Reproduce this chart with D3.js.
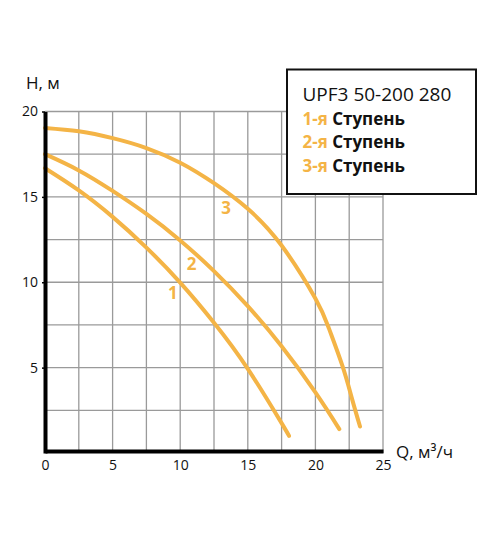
<!DOCTYPE html>
<html><head><meta charset="utf-8">
<script src="https://cdn.jsdelivr.net/npm/d3@7/dist/d3.min.js"></script>
<style>
body{margin:0;background:#fff;}
svg{display:block;font-family:"Open Sans",sans-serif;}
</style></head>
<body><svg id="c" width="500" height="538"></svg>
<script>
const xTicks=[0,5,10,15,20,25];
const yTicks=[5,10,15,20];
const gridX=[0,2.5,5,7.5,10,12.5,15,17.5,20,22.5,25];
const gridY=[2.5,5,7.5,10,12.5,15,17.5,20];
const stage1Q=[0,2.5,5,7.5,10,12.5,15,17.5,18.05];
const stage1H=[16.68,15.38,13.83,12.03,9.98,7.63,4.93,1.75,1.0];
const stage2Q=[0,2.5,5,7.5,10,12.5,15,17.5,20,21.77];
const stage2H=[17.5,16.55,15.35,14.0,12.45,10.65,8.6,6.25,3.55,1.4];
const stage3Q=[0,2.5,5,7.5,10,12.5,15,17.5,20,21,22,22.7,23.3];
const stage3H=[19.04,18.84,18.44,17.86,17.0,15.8,14.3,12.15,9.05,7.3,5.1,3.2,1.55];
const curveLabels=["1","2","3"];
const labelQ=[9.45,10.85,13.4];
const labelH=[9.4,11.1,14.35];
const legendTitle="UPF3 50-200 280";
const legendNums=["1-я","2-я","3-я"];
const legendWord="Ступень";

const svg=d3.select("#c");
const x=d3.scaleLinear().domain([0,25]).range([45,383]);
const y=d3.scaleLinear().domain([0,20]).range([453,111.5]);
const orange="#F4B446";

// grid
svg.append("g").selectAll("line").data(gridX).join("line")
 .attr("x1",d=>x(d)).attr("x2",d=>x(d)).attr("y1",y(0)).attr("y2",y(20))
 .attr("stroke","#9a9a9a").attr("stroke-width",1.3);
svg.append("g").selectAll("line").data(gridY).join("line")
 .attr("x1",x(0)).attr("x2",x(25)).attr("y1",d=>y(d)).attr("y2",d=>y(d))
 .attr("stroke","#9a9a9a").attr("stroke-width",1.3);

// curves
const series=[[stage1Q,stage1H],[stage2Q,stage2H],[stage3Q,stage3H]];
const line=d3.line().x(d=>x(d[0])).y(d=>y(d[1])).curve(d3.curveNatural);
series.forEach(([q,h])=>{
  svg.append("path").datum(q.map((v,i)=>[v,h[i]]))
   .attr("d",line).attr("fill","none").attr("stroke",orange)
   .attr("stroke-width",4).attr("stroke-linecap","round");
});

// axes
const xAxis=svg.append("g").attr("transform",`translate(0,${y(0)-2})`)
 .call(d3.axisBottom(x).tickValues(xTicks).tickSize(0).tickPadding(9));
xAxis.select(".domain").attr("stroke","#000").attr("stroke-width",4);
xAxis.selectAll("text").attr("font-size",14).attr("fill","#111").attr("font-family","Open Sans");
const yAxis=svg.append("g").attr("transform",`translate(${x(0)},0)`)
 .call(d3.axisLeft(y).tickValues(yTicks).tickSize(3).tickPadding(4).tickSizeOuter(0));
yAxis.select(".domain").attr("stroke","#000").attr("stroke-width",4);
yAxis.selectAll(".tick line").attr("stroke","#000").attr("stroke-width",1.5);
yAxis.selectAll("text").attr("font-size",14).attr("fill","#111").attr("font-family","Open Sans");

// axis titles
svg.append("text").attr("x",26).attr("y",89).attr("font-size",17).attr("fill","#111").text("H, м");
svg.append("text").attr("x",396).attr("y",458).attr("font-size",17).attr("fill","#111").text("Q, м³/ч");

// curve labels
svg.append("g").selectAll("text").data(curveLabels).join("text")
 .attr("x",(d,i)=>x(labelQ[i])).attr("y",(d,i)=>y(labelH[i]))
 .attr("text-anchor","middle").attr("dominant-baseline","central")
 .attr("font-size",17).attr("font-weight","bold").attr("fill",orange).text(d=>d);

// legend
svg.append("rect").attr("x",287).attr("y",69.5).attr("width",189).attr("height",124.5)
 .attr("fill","#fff").attr("stroke","#111").attr("stroke-width",2);
svg.append("text").attr("x",302.5).attr("y",101).attr("font-size",19).attr("fill","#111").text(legendTitle);
const lg=svg.append("g").selectAll("text").data(legendNums).join("text")
 .attr("x",302.5).attr("y",(d,i)=>125+i*23.4).attr("font-size",17).attr("font-weight","bold");
lg.append("tspan").attr("fill",orange).text(d=>d+" ");
lg.append("tspan").attr("fill","#111").text(legendWord);
</script></body></html>
